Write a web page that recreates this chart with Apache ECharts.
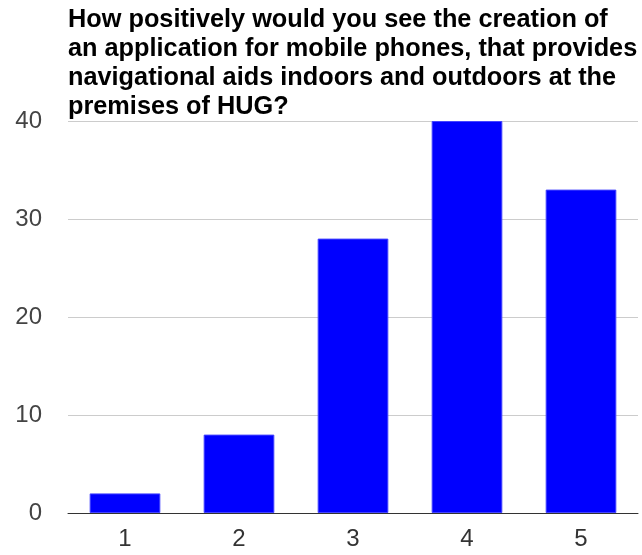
<!DOCTYPE html>
<html>
<head>
<meta charset="utf-8">
<script src="https://cdn.jsdelivr.net/npm/echarts@6/dist/echarts.min.js"></script>
<style>
  html, body { margin: 0; padding: 0; background: #fff; }
  #main { width: 642px; height: 555px; }
</style>
</head>
<body>
<div id="main"></div>
<script>
// data
var categories = ['1', '2', '3', '4', '5'];
var counts = [2, 8, 28, 40, 33];
var yTicks = { min: 0, max: 40, interval: 10 };

var myChart = echarts.init(document.getElementById('main'));
var option = {
    animation: false,
    backgroundColor: '#ffffff',
    title: {
        text: 'How positively would you see the creation of\nan application for mobile phones, that provides\nnavigational aids indoors and outdoors at the\npremises of HUG?',
        left: 63,
        top: 1,
        textStyle: {
            fontFamily: 'Liberation Sans',
            fontSize: 25.3,
            fontWeight: 'bold',
            color: '#000',
            lineHeight: 29
        }
    },
    grid: {
        left: 68,
        right: 4,
        top: 121,
        bottom: 42,
        containLabel: false
    },
    xAxis: {
        type: 'category',
        data: categories,
        axisTick: { show: false },
        axisLine: { lineStyle: { color: '#333', width: 1 } },
        axisLabel: {
            color: '#333',
            fontFamily: 'Liberation Sans',
            fontSize: 24,
            margin: 14
        }
    },
    yAxis: {
        type: 'value',
        min: yTicks.min,
        max: yTicks.max,
        interval: yTicks.interval,
        axisLine: { show: false },
        axisTick: { show: false },
        splitLine: { lineStyle: { color: '#cccccc' } },
        axisLabel: {
            color: '#444',
            fontFamily: 'Liberation Sans',
            fontSize: 24,
            margin: 26
        }
    },
    series: [{
        type: 'bar',
        data: counts,
        barCategoryGap: '38%',
        itemStyle: {
            color: '#0000ff',
            borderColor: '#4444ff',
            borderWidth: 1
        }
    }]
};
option && myChart.setOption(option);
</script>
</body>
</html>
